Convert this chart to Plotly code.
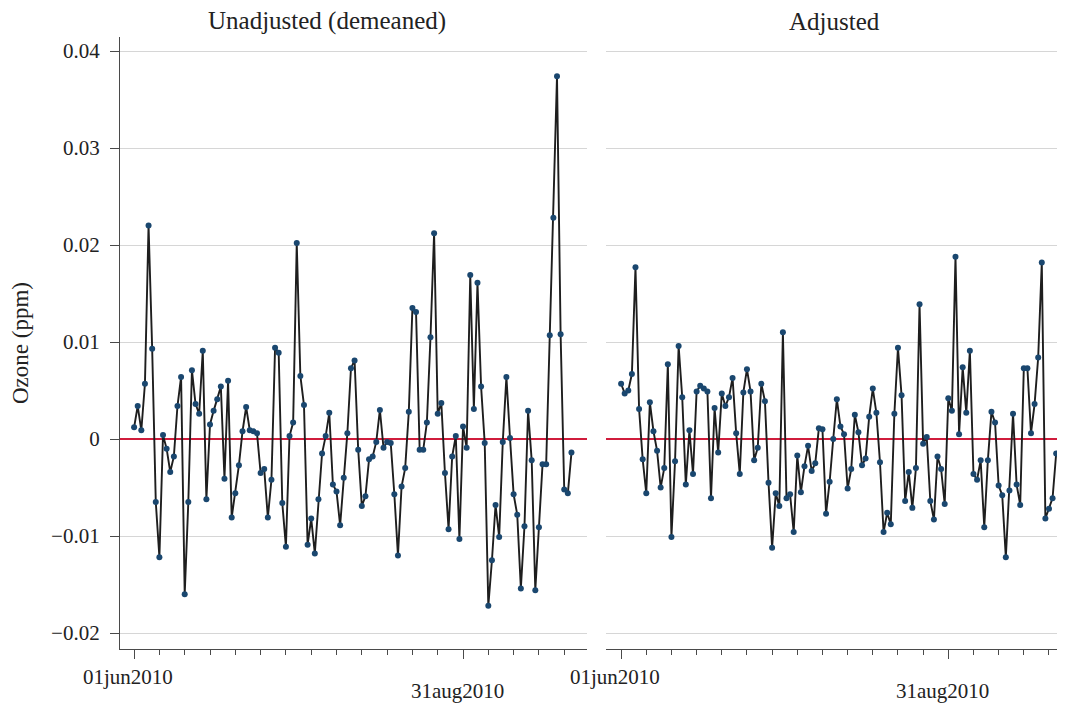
import pandas as pd
import plotly.graph_objects as go

start_date = "2010-06-01"
n_days = 122
dates = pd.date_range(start_date, periods=n_days, freq="D")

unadjusted = [
    0.0012, 0.0034, 0.0009, 0.0057, 0.0220, 0.0093, -0.0065, -0.0122, 0.0004, -0.0010,
    -0.0034, -0.0018, 0.0034, 0.0064, -0.0160, -0.0065, 0.0071, 0.0036, 0.0026, 0.0091,
    -0.0062, 0.0015, 0.0029, 0.0041, 0.0054, -0.0041, 0.0060, -0.0081, -0.0056, -0.0027,
    0.0008, 0.0033, 0.0009, 0.0008, 0.0006, -0.0035, -0.0031, -0.0081, -0.0042, 0.0094,
    0.0089, -0.0066, -0.0111, 0.0003, 0.0017, 0.0202, 0.0065, 0.0035, -0.0109, -0.0082,
    -0.0118, -0.0062, -0.0015, 0.0003, 0.0027, -0.0047, -0.0054, -0.0089, -0.0040, 0.0006,
    0.0073, 0.0081, -0.0011, -0.0069, -0.0059, -0.0021, -0.0018, -0.0003, 0.0030, -0.0009,
    -0.0003, -0.0004, -0.0057, -0.0120, -0.0049, -0.0030, 0.0028, 0.0135, 0.0131, -0.0011,
    -0.0011, 0.0017, 0.0105, 0.0212, 0.0026, 0.0037, -0.0035, -0.0093, -0.0018, 0.0003,
    -0.0103, 0.0013, -0.0009, 0.0169, 0.0031, 0.0161, 0.0054, -0.0004, -0.0172, -0.0125,
    -0.0068, -0.0101, -0.0003, 0.0064, 0.0001, -0.0057, -0.0078, -0.0154, -0.0090, 0.0029,
    -0.0022, -0.0156, -0.0091, -0.0026, -0.0026, 0.0107, 0.0228, 0.0374, 0.0108, -0.0052,
    -0.0056, -0.0014,
]

adjusted = [
    0.0057, 0.0047, 0.0050, 0.0067, 0.0177, 0.0031, -0.0021, -0.0056, 0.0038, 0.0008,
    -0.0012, -0.0050, -0.0030, 0.0077, -0.0101, -0.0023, 0.0096, 0.0043, -0.0047, 0.0009,
    -0.0036, 0.0049, 0.0055, 0.0052, 0.0049, -0.0061, 0.0032, -0.0014, 0.0047, 0.0034,
    0.0043, 0.0063, 0.0006, -0.0036, 0.0048, 0.0072, 0.0049, -0.0022, -0.0009, 0.0057,
    0.0039, -0.0045, -0.0112, -0.0056, -0.0069, 0.0110, -0.0061, -0.0057, -0.0096, -0.0017,
    -0.0055, -0.0028, -0.0007, -0.0033, -0.0025, 0.0011, 0.0010, -0.0077, -0.0044, 0.0000,
    0.0041, 0.0013, 0.0005, -0.0051, -0.0031, 0.0025, 0.0007, -0.0027, -0.0020, 0.0023,
    0.0052, 0.0027, -0.0024, -0.0096, -0.0076, -0.0088, 0.0026, 0.0094, 0.0045, -0.0064,
    -0.0034, -0.0071, -0.0030, 0.0139, -0.0005, 0.0002, -0.0064, -0.0083, -0.0018, -0.0031,
    -0.0067, 0.0042, 0.0029, 0.0188, 0.0005, 0.0074, 0.0027, 0.0091, -0.0036, -0.0042,
    -0.0022, -0.0091, -0.0022, 0.0028, 0.0017, -0.0048, -0.0058, -0.0122, -0.0053, 0.0026,
    -0.0047, -0.0068, 0.0073, 0.0073, 0.0006, 0.0036, 0.0084, 0.0182, -0.0082, -0.0072,
    -0.0061, -0.0015,
]

panel_titles = ["Unadjusted (demeaned)", "Adjusted"]
y_tickvals = [-0.02, -0.01, 0, 0.01, 0.02, 0.03, 0.04]
y_ticktext = ["\u22120.02", "\u22120.01", "0", "0.01", "0.02", "0.03", "0.04"]
x_major_dates = ["2010-06-01", "2010-08-31"]
x_major_labels = ["01jun2010", "31aug2010"]
x_minor_dates = [d.strftime("%Y-%m-%d") for d in pd.date_range("2010-06-08", "2010-09-28", freq="7D")]

FONT = "Liberation Serif"
TXT = "#222222"
LINE = "#1e1e1e"
MARK = "#1a476f"
GRID = "#d6d6d6"
AXIS = "#4a4a4a"
ZERO = "#d01c3c"

# the page places the figure 8px from the top-left corner of the window
OFF = 8
W, H = 1065 - OFF, 703 - OFF
top_px, bottom_px = 37 - OFF, 649 - OFF
left_dom = [(120 - OFF) / W, (587 - OFF) / W]
right_dom = [(606 - OFF) / W, (1063 - OFF) / W]
plot_h = bottom_px - top_px

t0 = pd.Timestamp(start_date)
def rng(a, b):
    return [(t0 + pd.Timedelta(days=a)).strftime("%Y-%m-%d %H:%M:%S"),
            (t0 + pd.Timedelta(days=b)).strftime("%Y-%m-%d %H:%M:%S")]

fig = go.Figure()
for vals, xa, ya in [(unadjusted, "x", "y"), (adjusted, "x2", "y2")]:
    fig.add_trace(go.Scatter(
        x=dates, y=vals, mode="lines+markers", xaxis=xa, yaxis=ya,
        line=dict(color=LINE, width=1.9),
        marker=dict(color=MARK, size=6, line=dict(width=0)),
        showlegend=False, hoverinfo="x+y",
    ))

y_common = dict(
    range=[-(649 - 439) / 9700, (439 - 37) / 9700],
    domain=[0, 1],
    tickvals=y_tickvals, ticktext=y_ticktext,
    showgrid=True, gridcolor=GRID, gridwidth=1.3,
    zeroline=True, zerolinecolor=ZERO, zerolinewidth=1.6,
    tickfont=dict(family=FONT, size=21, color=TXT),
    automargin=False, fixedrange=True,
)
x_common = dict(
    type="date",
    tickvals=x_major_dates, ticktext=x_major_labels,
    showticklabels=False,
    ticks="outside", ticklen=9, tickwidth=1.3, tickcolor=AXIS,
    showline=True, linecolor=AXIS, linewidth=1.3,
    showgrid=False, zeroline=False,
    minor=dict(tickvals=x_minor_dates, ticks="outside", ticklen=5, tickwidth=1.2, tickcolor=AXIS, showgrid=False),
    automargin=False, fixedrange=True,
)

fig.update_layout(
    width=W, height=H,
    margin=dict(l=0, r=0, t=top_px, b=H - bottom_px, pad=0),
    paper_bgcolor="white", plot_bgcolor="white",
    font=dict(family=FONT, color=TXT),
    xaxis=dict(x_common, domain=left_dom, range=rng(-3.9, 125.3), anchor="y"),
    xaxis2=dict(x_common, domain=right_dom, range=rng(-4.2, 122.9), anchor="y2"),
    yaxis=dict(y_common, anchor="x", showline=True, linecolor=AXIS, linewidth=1.3,
               ticks="outside", ticklen=9, tickwidth=1.3, tickcolor=AXIS,
               ticklabelstandoff=6,
               title=dict(text="Ozone (ppm)", font=dict(family=FONT, size=23, color=TXT), standoff=16)),
    yaxis2=dict(y_common, anchor="x2", showline=False, ticks="", showticklabels=False),
)

# panel titles
for title, cx in zip(panel_titles, [(206 + 447) / 2, (792 + 876) / 2]):
    fig.add_annotation(text=title, x=(cx - OFF) / W, xref="paper",
                       y=(649 - 21) / plot_h, yref="paper", showarrow=False,
                       xanchor="center", yanchor="middle",
                       font=dict(family=FONT, size=25, color=TXT))

# staggered x tick labels (as in the original)
row_y = [(649 - 677) / plot_h, (649 - 691) / plot_h]
for xa in ["x", "x2"]:
    for d, lab, yy in zip(x_major_dates, x_major_labels, row_y):
        fig.add_annotation(text=lab, x=d, xref=xa, y=yy, yref="paper", showarrow=False,
                           xanchor="center", yanchor="middle", xshift=-6,
                           font=dict(family=FONT, size=21, color=TXT))

fig.write_html("out.html")
